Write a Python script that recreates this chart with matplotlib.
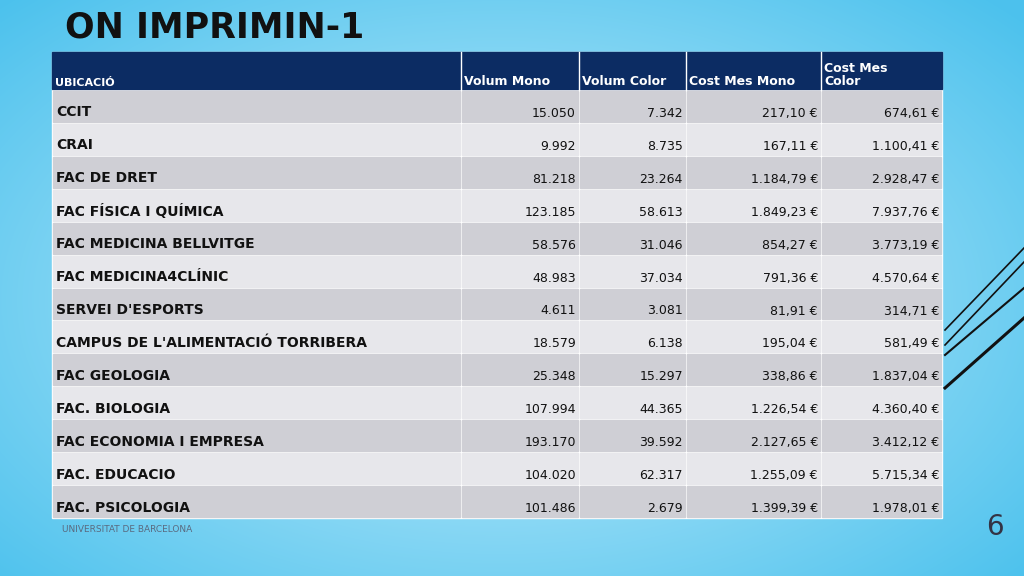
import numpy as np
import matplotlib
matplotlib.use("Agg")
import matplotlib.pyplot as plt
from matplotlib.patches import Rectangle

headers = ["UBICACIÓ", "Volum Mono", "Volum Color", "Cost Mes Mono", "Cost Mes\nColor"]
ubicacions = ["CCIT", "CRAI", "FAC DE DRET", "FAC FÍSICA I QUÍMICA", "FAC MEDICINA BELLVITGE",
              "FAC MEDICINA4CLÍNIC", "SERVEI D'ESPORTS", "CAMPUS DE L'ALIMENTACIÓ TORRIBERA",
              "FAC GEOLOGIA", "FAC. BIOLOGIA", "FAC ECONOMIA I EMPRESA", "FAC. EDUCACIO",
              "FAC. PSICOLOGIA"]
volum_mono = ["15.050", "9.992", "81.218", "123.185", "58.576", "48.983", "4.611", "18.579",
              "25.348", "107.994", "193.170", "104.020", "101.486"]
volum_color = ["7.342", "8.735", "23.264", "58.613", "31.046", "37.034", "3.081", "6.138",
               "15.297", "44.365", "39.592", "62.317", "2.679"]
cost_mono = ["217,10 €", "167,11 €", "1.184,79 €", "1.849,23 €", "854,27 €", "791,36 €",
             "81,91 €", "195,04 €", "338,86 €", "1.226,54 €", "2.127,65 €", "1.255,09 €", "1.399,39 €"]
cost_color = ["674,61 €", "1.100,41 €", "2.928,47 €", "7.937,76 €", "3.773,19 €", "4.570,64 €",
              "314,71 €", "581,49 €", "1.837,04 €", "4.360,40 €", "3.412,12 €", "5.715,34 €", "1.978,01 €"]

fig = plt.figure(figsize=(10.24, 5.76), dpi=100)
ax = fig.add_axes([0, 0, 1, 1])
ax.set_xlim(0, 1024); ax.set_ylim(576, 0); ax.axis("off")

yy, xx = np.mgrid[0:576, 0:1024]
d = np.sqrt(((xx - 500) / 700) ** 2 + ((yy - 300) / 420) ** 2)
d = np.clip(d, 0, 1)
c0 = np.array([0.80, 0.94, 0.99]); c1 = np.array([0.30, 0.76, 0.93])
img = c0[None, None, :] * (1 - d[..., None]) + c1[None, None, :] * d[..., None]
ax.imshow(img, extent=[0, 1024, 576, 0], aspect="auto", zorder=0)

ax.text(65, 28, "ON IMPRIMIN-1", fontsize=25, fontweight="heavy", color="#111111",
        va="center", ha="left", family="DejaVu Sans")

cols = [52, 461, 579, 686, 821, 942]
top, hdr_bot, bot = 52, 90, 518
n = len(ubicacions)
rh = (bot - hdr_bot) / n

ax.add_patch(Rectangle((cols[0], top), cols[-1] - cols[0], bot - top, color="white", zorder=0.5))
ax.add_patch(Rectangle((cols[0], top), cols[-1] - cols[0], hdr_bot - top - 1, color="#0C2C63", zorder=1))
for j in range(1, 5):
    ax.plot([cols[j], cols[j]], [top, hdr_bot], color="white", lw=1, zorder=2)
for j, h in enumerate(headers):
    x = cols[j] + 3
    ax.text(x, hdr_bot - 2, h, color="white", fontsize=8 if j == 0 else 9, fontweight="bold",
            va="bottom", ha="left", zorder=3, linespacing=1.0)

for i in range(n):
    y0 = hdr_bot + i * rh
    fc = "#CFCFD5" if i % 2 == 0 else "#E7E7EB"
    for j in range(5):
        ax.add_patch(Rectangle((cols[j] + 1, y0 + 1), cols[j + 1] - cols[j] - 2, rh - 2,
                               color=fc, zorder=1))
    yc = y0 + rh / 2
    ax.text(cols[0] + 4, yc + 6, ubicacions[i], fontsize=10, fontweight="bold", color="#111111",
            va="center", ha="left", zorder=3)
    for j, arr in enumerate([volum_mono, volum_color, cost_mono, cost_color], start=1):
        ax.text(cols[j + 1] - 3, yc + 7, arr[i], fontsize=9, color="#111111",
                va="center", ha="right", zorder=3)

ax.text(62, 529, "UNIVERSITAT DE BARCELONA", fontsize=6.5, color="#5a6a80", va="center", ha="left")
ax.text(995, 527, "6", fontsize=20, color="#334", va="center", ha="center")

for (x1, y1, x2, y2, w) in [(945, 330, 1024, 248, 1.2), (945, 345, 1024, 262, 1.2),
                            (945, 355, 1024, 288, 1.5), (945, 388, 1024, 318, 2.2)]:
    ax.plot([x1, x2], [y1, y2], color="#111", lw=w)

fig.savefig("out.png", dpi=100)
